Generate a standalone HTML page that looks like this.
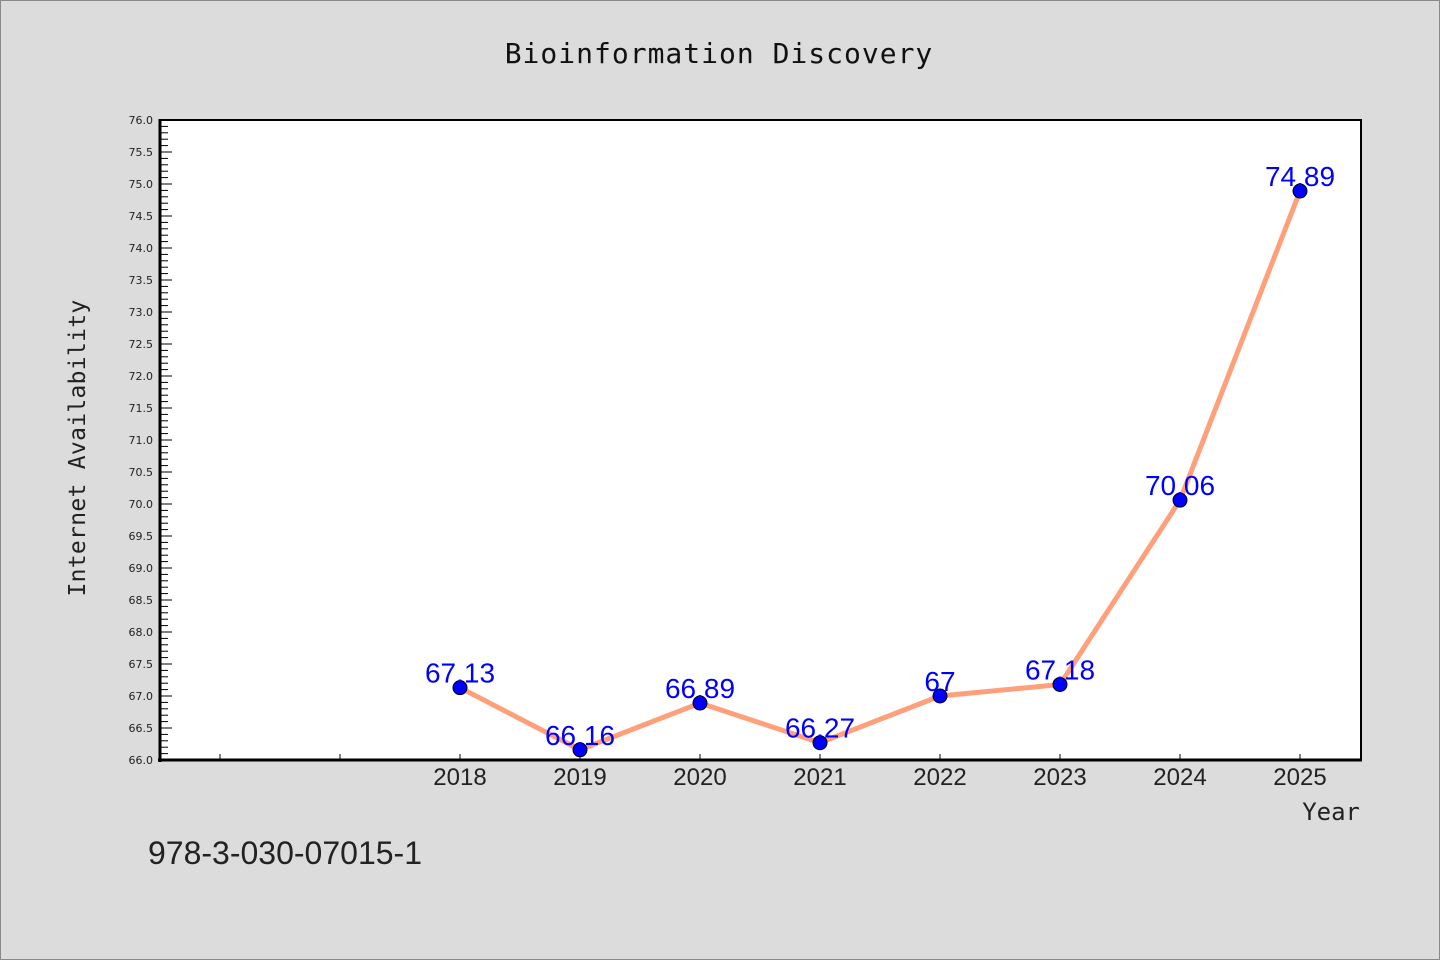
<!DOCTYPE html>
<html><head><meta charset="utf-8"><style>
html,body{margin:0;padding:0;background:#dcdcdc;}
svg{display:block;font-family:"WenQuanYi Zen Hei","Liberation Sans",sans-serif;}
</style></head><body>
<svg id="chart" width="1440" height="960" viewBox="0 0 1440 960">
<rect x="0.5" y="0.5" width="1439" height="959" fill="#dcdcdc" stroke="#888"/>
<text x="719" y="63" text-anchor="middle" font-size="28" letter-spacing="1" fill="#111" font-family="DejaVu Sans Mono, Liberation Mono, monospace">Bioinformation Discovery</text>
<rect x="160" y="120" width="1201" height="640" fill="#fff" stroke="#000" stroke-width="2"/>
<g id="yticks"></g>
<g id="xticks"></g>
<line x1="160" y1="119" x2="160" y2="762" stroke="#000" stroke-width="3"/>
<line x1="158" y1="760" x2="1362" y2="760" stroke="#000" stroke-width="3"/>
<g id="series"></g>
<text transform="translate(85,448) rotate(-90)" text-anchor="middle" font-size="23" letter-spacing="0.3" fill="#222" font-family="DejaVu Sans Mono, Liberation Mono, monospace">Internet Availability</text>
<text x="1360" y="820" text-anchor="end" font-size="24" fill="#222" font-family="DejaVu Sans Mono, Liberation Mono, monospace">Year</text>
<text x="148" y="864" font-size="32" fill="#222">978-3-030-07015-1</text>
</svg>
<script>
const years = [2018, 2019, 2020, 2021, 2022, 2023, 2024, 2025];
const values = [67.13, 66.16, 66.89, 66.27, 67, 67.18, 70.06, 74.89];
const valueLabels = ["67.13", "66.16", "66.89", "66.27", "67", "67.18", "70.06", "74.89"];
const xTickYears = [2016, 2017, 2018, 2019, 2020, 2021, 2022, 2023, 2024, 2025];
const yMin = 66, yMax = 76, xMin = 2015.5, xMax = 2025.5;
const L = 160, R = 1360, T = 120, B = 760;
const NS = "http://www.w3.org/2000/svg";
const xs = v => L + (v - xMin) / (xMax - xMin) * (R - L);
const ys = v => B - (v - yMin) / (yMax - yMin) * (B - T);
function mk(tag, attrs, parent){const e=document.createElementNS(NS,tag);for(const k in attrs)e.setAttribute(k,attrs[k]);parent.appendChild(e);return e;}
const yg=document.getElementById('yticks');
for(let i=0;i<=100;i++){
  const v=yMin+i*0.1, y=ys(v), major=i%5===0;
  const t=mk('line',{x1:L,x2:L+(major?12:8),y1:y,y2:y,stroke:'#000','stroke-width':1},yg);
  
  
  if(major){
    const tx=mk('text',{x:L-7,y:y+4,'text-anchor':'end','font-size':11,fill:'#222','font-family':'DejaVu Sans, sans-serif'},yg);
    
    
    tx.textContent=v.toFixed(1);
  }
}
const xg=document.getElementById('xticks');
xTickYears.forEach(yr=>{
  const x=xs(yr);
  const t=mk('line',{x1:x,x2:x,y1:B,y2:B-6,stroke:'#000','stroke-width':1},xg);
  
  
  if(years.includes(yr)){
    const tx=mk('text',{x:x,y:B+25,'text-anchor':'middle','font-size':24,fill:'#222'},xg);
    
    
    tx.textContent=String(yr);
  }
});
const sg=document.getElementById('series');
const pts=years.map((yr,i)=>xs(yr)+','+ys(values[i])).join(' ');
const pl=mk('polyline',{points:pts,fill:'none',stroke:'#ffa07a','stroke-width':5,'stroke-linejoin':'round'},sg);


years.forEach((yr,i)=>{
  const c=mk('circle',{cx:xs(yr),cy:ys(values[i]),r:7,fill:'#0000ff',stroke:'#000','stroke-width':1},sg);
  
  
  const tx=mk('text',{x:xs(yr),y:ys(values[i])-5,'text-anchor':'middle','font-size':28,fill:'#0000ff'},sg);
  
  
  tx.textContent=valueLabels[i];
});
</script>
</body></html>
